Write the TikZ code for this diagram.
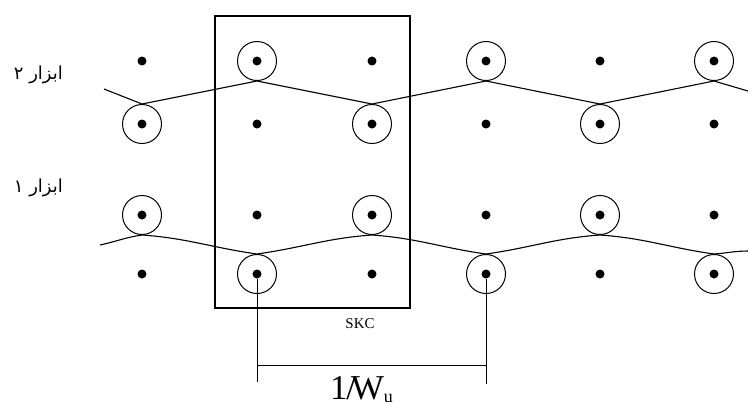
\documentclass[tikz,border=0pt]{standalone}
\usepackage{fontspec}
\setmainfont{Liberation Serif}
\newfontfamily\arabicfont[Script=Arabic]{DejaVu Sans}
\TeXXeTstate=1
\begin{document}
\begin{tikzpicture}[x=1bp,y=1bp,
  dot/.style={circle,fill=black,inner sep=0pt,minimum size=9bp},
  ring/.style={circle,draw,line width=1bp,inner sep=0pt,minimum size=39bp},
  wave/.style={line width=1.1bp},
  dim/.style={line width=0.8bp},
  frame/.style={draw,line width=2bp,inner sep=0pt,minimum width=195bp,minimum height=292bp},
  fa/.style={font=\arabicfont\fontsize{18}{20}\selectfont,inner sep=0pt,anchor=east}]
\useasboundingbox (0,0) rectangle (748,-401);
\clip (0,0) rectangle (748,-401);
\fill[white] (0,0) rectangle (748,-401);
\foreach \c/\x in {1/142,2/257,3/372,4/486,5/600,6/714}{
  \foreach \r/\y in {1/61,2/124,3/215,4/274}{
    \node[dot] (d\r\c) at (\x,-\y) {};
  }
}
\foreach \rc in {12,14,16,21,23,25,31,33,35,42,44,46}{
  \node[ring] (r\rc) at (d\rc) {};
}
% top wave
\coordinate (wa) at (104,-89);
\coordinate (wb) at (748,-91);
\draw[wave] (wa) -- (r21.north) -- (r12.south) -- (r23.north) -- (r14.south) -- (r25.north) -- (r16.south) -- (wb);
% bottom wave
\coordinate (wc) at (100,-245);
\coordinate (wd) at (748,-251);
\draw[wave] (wc) to[out=12,in=188] (r31.south) to[out=-4,in=172] (r42.north) to[out=8,in=184] (r33.south)
  to[out=-4,in=172] (r44.north) to[out=8,in=184] (r35.south) to[out=-4,in=172] (r46.north) to[out=4,in=180] (wd);
% frame
\node[frame] (box) at (312.5,-162) {};
\node[inner sep=0pt] (skc) at (360,-324) {\fontsize{15}{15}\selectfont SKC};
% dimension
\coordinate (m1) at (257,-382);
\coordinate (m2) at (486,-384);
\coordinate (h1) at (257,-365);
\coordinate (h2) at (486,-365);
\draw[dim] (d42) -- (m1);
\draw[dim] (d44) -- (m2);
\draw[dim] (h1) -- (h2);
\node[anchor=base west,inner sep=0pt] (wl) at (330,-399) {\fontsize{35}{35}\selectfont 1\kern-0.04em/\kern-0.14em W\raisebox{-3bp}{\fontsize{18}{18}\selectfont u}};
% labels
\node[fa] (t2) at (63,-75) {\beginR ابزار ۲\endR};
\node[fa] (t1) at (63,-188) {\beginR ابزار ۱\endR};
\end{tikzpicture}
\end{document}
